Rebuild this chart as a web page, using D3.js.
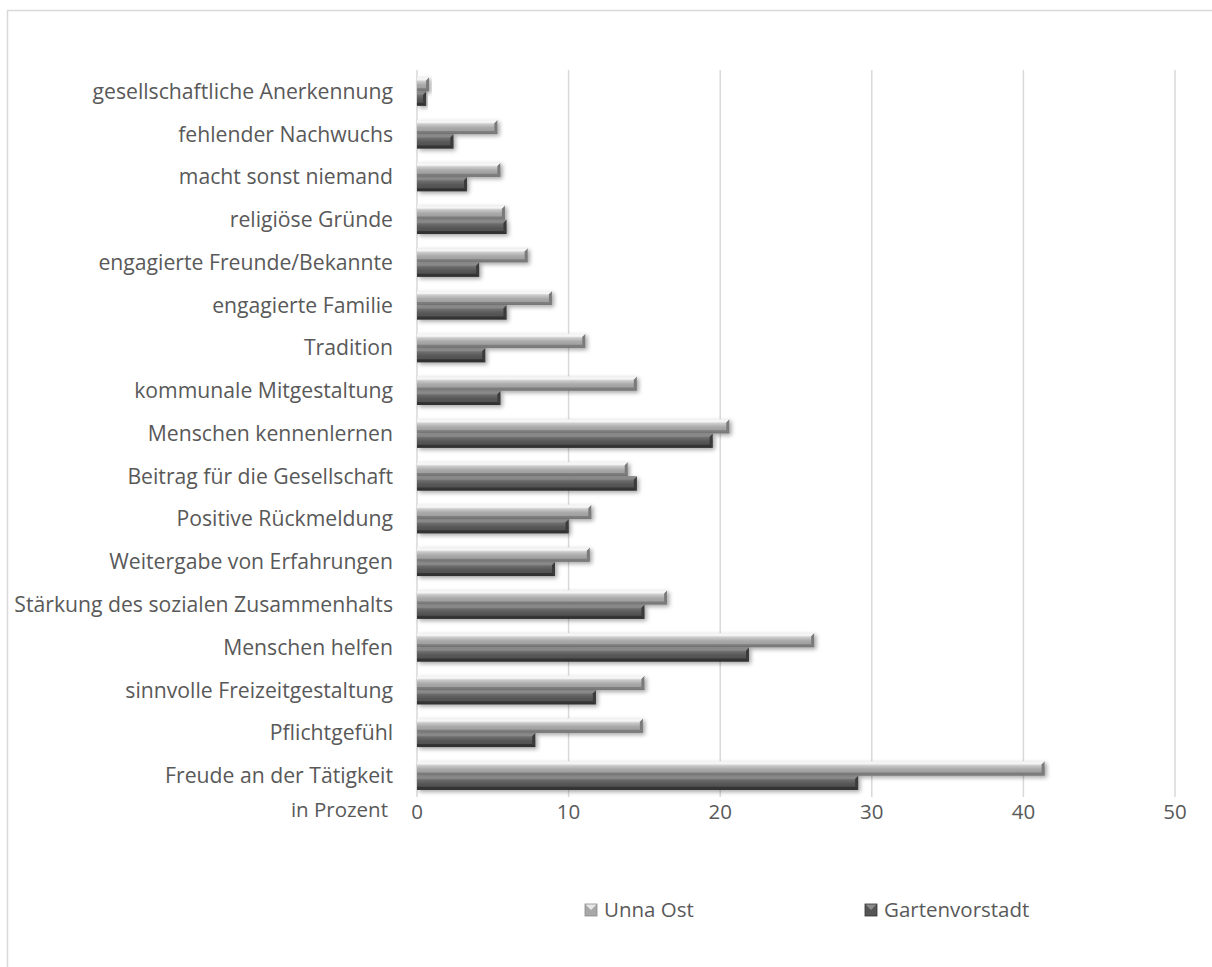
<!DOCTYPE html>
<html>
<head>
<meta charset="utf-8">
<script src="https://cdn.jsdelivr.net/npm/d3@7"></script>
<style>
  html, body { margin: 0; padding: 0; background: #fff; }
  svg { display: block; }
  text { font-family: "Open Sans", "Liberation Sans", sans-serif; fill: #595959; }
</style>
</head>
<body>
<svg id="chart" width="1212" height="967"></svg>
<script>
// Motive für ehrenamtliches Engagement, Anteile in Prozent
const categories = [
  "gesellschaftliche Anerkennung",
  "fehlender Nachwuchs",
  "macht sonst niemand",
  "religiöse Gründe",
  "engagierte Freunde/Bekannte",
  "engagierte Familie",
  "Tradition",
  "kommunale Mitgestaltung",
  "Menschen kennenlernen",
  "Beitrag für die Gesellschaft",
  "Positive Rückmeldung",
  "Weitergabe von Erfahrungen",
  "Stärkung des sozialen Zusammenhalts",
  "Menschen helfen",
  "sinnvolle Freizeitgestaltung",
  "Pflichtgefühl",
  "Freude an der Tätigkeit"
];
const seriesNames = ["Unna Ost", "Gartenvorstadt"];
const unnaOst = [0.8, 5.3, 5.5, 5.8, 7.3, 8.9, 11.1, 14.5, 20.6, 13.9, 11.5, 11.4, 16.5, 26.2, 15.0, 14.9, 41.4];
const gartenvorstadt = [0.6, 2.4, 3.3, 5.9, 4.1, 5.9, 4.5, 5.5, 19.5, 14.5, 10.0, 9.1, 15.0, 21.9, 11.8, 7.8, 29.1];
const xTicks = [0, 10, 20, 30, 40, 50];
const axisTitle = "in Prozent";

const FONT = 20.5;
const svg = d3.select("#chart");

// frame of the chart area
svg.append("path")
  .attr("d", "M7.5,967 L7.5,10.5 L1212,10.5")
  .attr("fill", "none").attr("stroke", "#d9d9d9").attr("stroke-width", 1.5);

const x = d3.scaleLinear().domain([0, 50]).range([417, 1175]);
const y = d3.scaleBand().domain(categories).range([70, 797]).paddingInner(0.32).paddingOuter(0.16);
const ySub = d3.scaleBand().domain(seriesNames).range([0, y.bandwidth()]).padding(0.02);

const defs = svg.append("defs");

// vertical shading of the bevelled bars
const shades = {
  "Unna Ost": [["0%", "#e6e6e6"], ["12%", "#ffffff"], ["30%", "#cbcbcb"], ["55%", "#aaaaaa"], ["85%", "#9c9c9c"], ["100%", "#707070"]],
  "Gartenvorstadt": [["0%", "#6a6a6a"], ["12%", "#8e8e8e"], ["30%", "#6c6c6c"], ["55%", "#585858"], ["85%", "#4e4e4e"], ["100%", "#333333"]]
};
seriesNames.forEach((s, i) => {
  const g = defs.append("linearGradient").attr("id", "grad" + i)
    .attr("x1", 0).attr("y1", 0).attr("x2", 0).attr("y2", 1);
  shades[s].forEach(([o, c]) => g.append("stop").attr("offset", o).attr("stop-color", c));
});
const shadow = defs.append("filter").attr("id", "shadow")
  .attr("x", "-10%").attr("y", "-40%").attr("width", "130%").attr("height", "200%");
shadow.append("feDropShadow").attr("dx", 2).attr("dy", 2).attr("stdDeviation", 2)
  .attr("flood-color", "#000").attr("flood-opacity", 0.35);

// gridlines
svg.append("g").selectAll("line").data(xTicks).join("line")
  .attr("x1", d => x(d)).attr("x2", d => x(d))
  .attr("y1", 70).attr("y2", 797)
  .attr("stroke", "#d9d9d9").attr("stroke-width", 1.5);

// bars
const data = categories.map((c, i) => ({ cat: c, values: [unnaOst[i], gartenvorstadt[i]] }));
const groups = svg.append("g").selectAll("g").data(data).join("g")
  .attr("transform", d => `translate(0,${y(d.cat)})`);

groups.each(function (d) {
  const g = d3.select(this);
  d.values.forEach((v, i) => {
    const s = seriesNames[i];
    const x0 = x(0), x1 = x(v), y0 = ySub(s), h = ySub.bandwidth();
    const bev = Math.min(3, (x1 - x0) / 2);
    const bar = g.append("g").attr("filter", "url(#shadow)");
    bar.append("rect")
      .attr("x", x0).attr("y", y0).attr("width", x1 - x0).attr("height", h)
      .attr("fill", `url(#grad${i})`);
    // bevelled right end
    bar.append("path")
      .attr("d", `M${x1 - bev},${y0 + bev} L${x1},${y0} L${x1},${y0 + h} L${x1 - bev},${y0 + h - bev} Z`)
      .attr("fill", i === 0 ? "#7a7a7a" : "#3a3a3a");
    bar.append("path")
      .attr("d", `M${x0},${y0} L${x1},${y0} L${x1 - bev},${y0 + bev} L${x0},${y0 + bev} Z`)
      .attr("fill", i === 0 ? "#f4f4f4" : "#8a8a8a").attr("opacity", 0.8);
    bar.append("path")
      .attr("d", `M${x0},${y0 + h} L${x1},${y0 + h} L${x1 - bev},${y0 + h - bev} L${x0},${y0 + h - bev} Z`)
      .attr("fill", i === 0 ? "#777" : "#2e2e2e").attr("opacity", 0.8);
  });
});

// category labels
svg.append("g").selectAll("text").data(categories).join("text")
  .attr("x", 393).attr("y", d => y(d) + y.bandwidth() / 2)
  .attr("dy", "0.35em").attr("text-anchor", "end")
  .attr("font-size", 21.2).text(d => d);

// x-axis tick labels
svg.append("g").selectAll("text").data(xTicks).join("text")
  .attr("x", d => x(d)).attr("y", 812).attr("dy", "0.35em")
  .attr("text-anchor", "middle").attr("font-size", FONT).text(d => d);

svg.append("text").attr("x", 388).attr("y", 810).attr("dy", "0.35em")
  .attr("text-anchor", "end").attr("font-size", FONT).text(axisTitle);

// legend
const legendX = [585, 865];
const legend = svg.append("g").selectAll("g").data(seriesNames).join("g")
  .attr("transform", (d, i) => `translate(${legendX[i]},904)`);
legend.append("rect").attr("width", 12).attr("height", 12)
  .attr("fill", (d, i) => i === 0 ? "#a8a8a8" : "#555555")
  .attr("stroke", (d, i) => i === 0 ? "#8a8a8a" : "#333").attr("stroke-width", 0.8);
legend.append("path").attr("d", "M0.5,0.5 L6,6 L11.5,0.5 Z")
  .attr("fill", (d, i) => i === 0 ? "#e8e8e8" : "#8a8a8a");
legend.append("text").attr("x", 19).attr("y", 6).attr("dy", "0.35em")
  .attr("font-size", FONT).text(d => d);
</script>
</body>
</html>
